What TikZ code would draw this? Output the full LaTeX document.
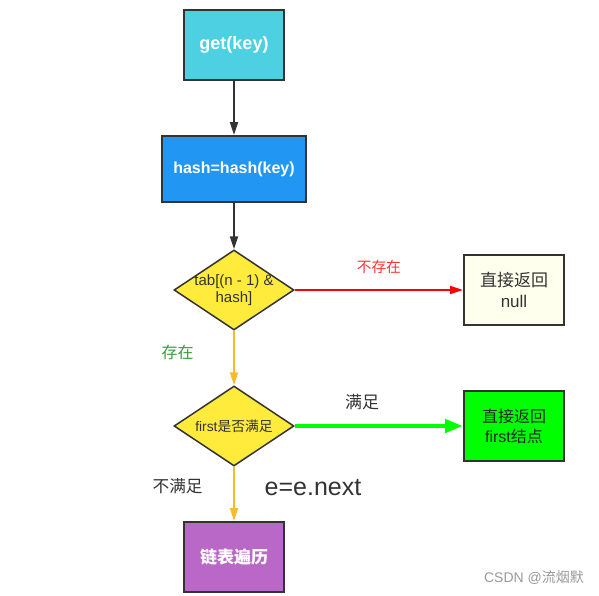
\documentclass[tikz,border=0pt]{standalone}
\usepackage{fontspec}
\setmainfont{Liberation Sans}
\newfontfamily\cjk{Noto Sans CJK SC}
\usetikzlibrary{arrows.meta,shapes.geometric}

\definecolor{edgegray}{HTML}{333333}
\definecolor{getcyan}{HTML}{4DD0E1}
\definecolor{hashblue}{HTML}{2196F3}
\definecolor{testyellow}{HTML}{FFEB3B}
\definecolor{nullivory}{HTML}{FFFFEE}
\definecolor{firstgreen}{HTML}{00FF00}
\definecolor{walkpurple}{HTML}{BA68C8}
\definecolor{flowred}{HTML}{FF0000}
\definecolor{flowamber}{HTML}{FBBA2D}
\definecolor{labelgreen}{HTML}{3A9A3A}

\begin{document}
\begin{tikzpicture}[x=1pt,y=-1pt,>={Triangle[width=8pt,length=13pt]},
  box/.style={draw=edgegray,line width=2pt,minimum width=100pt,minimum height=70pt,align=center},
  test/.style={diamond,draw=edgegray,line width=1.5pt,fill=testyellow,minimum width=120pt,minimum height=80pt,inner sep=-12pt,aspect=1.5,align=center,text=edgegray}]
\useasboundingbox (0,0) rectangle (599,595);

\node[box,fill=getcyan,text=white,font=\bfseries\fontsize{18}{21}\selectfont] (get) at (234,45) {get(key)};
\node[box,fill=hashblue,text=white,minimum width=144pt,minimum height=66pt,font=\bfseries\fontsize{16}{19}\selectfont] (hash) at (234,169) {hash=hash(key)};
\node[test,font=\fontsize{15}{17}\selectfont] (tab) at (234,290) {tab[(n - 1) \&\\hash]};
\node[box,fill=nullivory,text=edgegray,font=\fontsize{17}{21}\selectfont] (nullret) at (514,290) {{\cjk 直接返回}\\null};
\node[test,font=\fontsize{13.8}{16}\selectfont] (first) at (234,426) {first{\cjk 是否满足}};
\node[box,fill=firstgreen,text=black!85,font=\fontsize{16}{20}\selectfont] (firstret) at (514,426) {{\cjk 直接返回}\\first{\cjk 结点}};
\node[box,fill=walkpurple,text=white,font=\cjk\bfseries\fontsize{17}{20}\selectfont] (walk) at (234,557) {链表遍历};

\draw[->,edgegray,line width=2pt] (get) -- (hash);
\draw[->,edgegray,line width=2pt] (hash) -- (tab);
\draw[->,flowred,line width=2pt] (tab) -- node[above=12pt,font=\cjk\fontsize{14.7}{17}\selectfont,text=flowred!80] {不存在} (nullret);
\draw[->,flowamber,line width=2pt] (tab) -- node[pos=0.4,left=36pt,font=\cjk\fontsize{16}{18}\selectfont,text=labelgreen] {存在} (first);
\draw[->,firstgreen,line width=4.5pt,>={Triangle[width=13pt,length=18pt]}] (first) -- node[pos=0.4,above=11pt,font=\cjk\fontsize{17}{19}\selectfont,text=edgegray] {满足} (firstret);
\draw[->,flowamber,line width=2pt] (first) -- node[pos=0.36,left=27pt,font=\cjk\fontsize{16.7}{19}\selectfont,text=edgegray] {不满足} (walk);
\node[text=edgegray,font=\fontsize{25}{28}\selectfont] (next) at (313,488) {e=e.next};

\node[text=black!40,font=\fontsize{14}{16}\selectfont] (mark) at (534,578) {CSDN @{\cjk 流烟默}};
\end{tikzpicture}
\end{document}
